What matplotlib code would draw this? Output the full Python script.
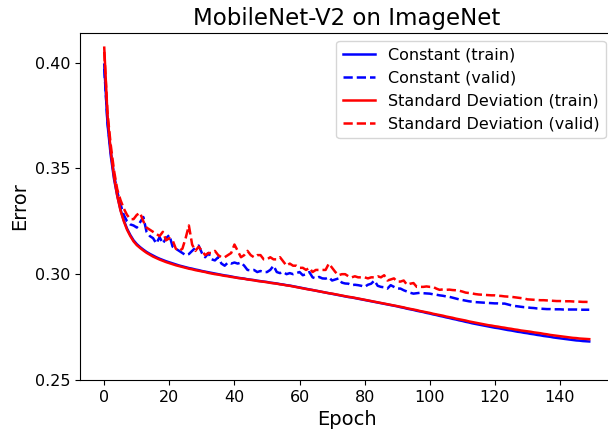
import numpy as np
import matplotlib
matplotlib.use('Agg')
import matplotlib.pyplot as plt

# error per epoch
const_train = [0.399, 0.371, 0.356, 0.345, 0.337, 0.3305, 0.3255, 0.3215, 0.3185, 0.316,
               0.3142, 0.3128, 0.3116, 0.3105, 0.3096, 0.3088, 0.3080, 0.3073, 0.3067, 0.3061,
               0.3056, 0.3051, 0.3046, 0.3041, 0.3037, 0.3033, 0.3029, 0.3026, 0.3022, 0.3019,
               0.3015, 0.3012, 0.3009, 0.3006, 0.3003, 0.3000, 0.2997, 0.2994, 0.2992, 0.2989,
               0.2986, 0.2983, 0.2981, 0.2979, 0.2976, 0.2974, 0.2972, 0.2969, 0.2967, 0.2965,
               0.2963, 0.2960, 0.2958, 0.2956, 0.2953, 0.2951, 0.2948, 0.2946, 0.2943, 0.2940,
               0.2937, 0.2934, 0.2931, 0.2928, 0.2925, 0.2922, 0.2919, 0.2916, 0.2913, 0.2910,
               0.2907, 0.2904, 0.2901, 0.2898, 0.2895, 0.2892, 0.2890, 0.2887, 0.2884, 0.2881,
               0.2878, 0.2875, 0.2872, 0.2869, 0.2866, 0.2863, 0.2860, 0.2857, 0.2854, 0.2851,
               0.2848, 0.2844, 0.2841, 0.2837, 0.2834, 0.2831, 0.2827, 0.2824, 0.2821, 0.2817,
               0.2814, 0.2810, 0.2807, 0.2803, 0.2800, 0.2796, 0.2793, 0.2789, 0.2786, 0.2782,
               0.2779, 0.2775, 0.2772, 0.2768, 0.2765, 0.2762, 0.2759, 0.2756, 0.2753, 0.2750,
               0.2747, 0.2745, 0.2742, 0.2739, 0.2736, 0.2734, 0.2731, 0.2728, 0.2726, 0.2723,
               0.2721, 0.2718, 0.2716, 0.2713, 0.2711, 0.2708, 0.2706, 0.2704, 0.2701, 0.2699,
               0.2697, 0.2695, 0.2693, 0.2691, 0.2689, 0.2687, 0.2686, 0.2684, 0.2683, 0.2682]

const_valid = [0.397, 0.372, 0.358, 0.347, 0.339, 0.333, 0.328, 0.325, 0.3235, 0.323,
               0.322, 0.3245, 0.327, 0.320, 0.318, 0.317, 0.3145, 0.3175, 0.3145, 0.317,
               0.3185, 0.313, 0.312, 0.311, 0.310, 0.309, 0.3095, 0.311, 0.3125, 0.3135,
               0.310, 0.308, 0.310, 0.307, 0.3065, 0.308, 0.305, 0.304, 0.3055, 0.305,
               0.3055, 0.305, 0.3055, 0.304, 0.302, 0.3018, 0.302, 0.301, 0.3015, 0.301,
               0.301, 0.302, 0.304, 0.301, 0.3005, 0.301, 0.300, 0.3005, 0.300, 0.3005,
               0.301, 0.2995, 0.300, 0.301, 0.2985, 0.298, 0.2987, 0.298, 0.2979, 0.2985,
               0.297, 0.2975, 0.298, 0.296, 0.2956, 0.2955, 0.2948, 0.295, 0.2948, 0.2945,
               0.294, 0.295, 0.2955, 0.297, 0.2945, 0.294, 0.2938, 0.2932, 0.2948, 0.294,
               0.2932, 0.2932, 0.2924, 0.2918, 0.2912, 0.2908, 0.291, 0.2912, 0.291, 0.2909,
               0.2908, 0.2905, 0.2903, 0.2900, 0.2898, 0.2895, 0.2893, 0.2889, 0.2885, 0.2881,
               0.2878, 0.2875, 0.2872, 0.2870, 0.2868, 0.2867, 0.2866, 0.2865, 0.2864, 0.2863,
               0.2862, 0.2862, 0.2861, 0.2861, 0.2857, 0.2853, 0.2850, 0.2848, 0.2846, 0.2844,
               0.2843, 0.2841, 0.2840, 0.2838, 0.2837, 0.2836, 0.2835, 0.2835, 0.2834, 0.2834,
               0.2834, 0.2833, 0.2833, 0.2833, 0.2833, 0.2833, 0.2832, 0.2832, 0.2832, 0.2832]

std_train = [0.407, 0.375, 0.358, 0.346, 0.337, 0.330, 0.325, 0.321, 0.318, 0.3155,
             0.3137, 0.3124, 0.3112, 0.3101, 0.3092, 0.3083, 0.3076, 0.3069, 0.3063, 0.3057,
             0.3052, 0.3047, 0.3042, 0.3038, 0.3034, 0.3030, 0.3026, 0.3023, 0.3019, 0.3016,
             0.3013, 0.3010, 0.3006, 0.3003, 0.3000, 0.2998, 0.2995, 0.2992, 0.2990, 0.2987,
             0.2985, 0.2982, 0.2980, 0.2978, 0.2975, 0.2973, 0.2971, 0.2968, 0.2966, 0.2964,
             0.2962, 0.2959, 0.2957, 0.2955, 0.2952, 0.2950, 0.2947, 0.2945, 0.2942, 0.2939,
             0.2936, 0.2933, 0.2930, 0.2927, 0.2925, 0.2922, 0.2919, 0.2916, 0.2913, 0.2910,
             0.2908, 0.2905, 0.2902, 0.2899, 0.2896, 0.2893, 0.2891, 0.2888, 0.2885, 0.2882,
             0.2879, 0.2876, 0.2873, 0.2870, 0.2867, 0.2864, 0.2861, 0.2858, 0.2855, 0.2852,
             0.2849, 0.2846, 0.2843, 0.2839, 0.2836, 0.2833, 0.2830, 0.2826, 0.2823, 0.2820,
             0.2817, 0.2813, 0.2810, 0.2807, 0.2804, 0.2800, 0.2797, 0.2794, 0.2790, 0.2787,
             0.2784, 0.2781, 0.2777, 0.2774, 0.2771, 0.2768, 0.2765, 0.2762, 0.2759, 0.2757,
             0.2754, 0.2752, 0.2749, 0.2747, 0.2744, 0.2742, 0.2739, 0.2737, 0.2734, 0.2732,
             0.2730, 0.2728, 0.2725, 0.2723, 0.2721, 0.2718, 0.2716, 0.2713, 0.2711, 0.2709,
             0.2707, 0.2705, 0.2703, 0.2701, 0.2699, 0.2698, 0.2696, 0.2695, 0.2694, 0.2693]

std_valid = [0.405, 0.376, 0.361, 0.349, 0.340, 0.335, 0.331, 0.328, 0.326, 0.326,
             0.328, 0.329, 0.325, 0.322, 0.321, 0.320, 0.319, 0.318, 0.320, 0.316,
             0.317, 0.316, 0.312, 0.311, 0.312, 0.317, 0.323, 0.314, 0.311, 0.313,
             0.311, 0.309, 0.310, 0.310, 0.311, 0.309, 0.308, 0.308, 0.309, 0.310,
             0.314, 0.311, 0.308, 0.309, 0.311, 0.309, 0.308, 0.309, 0.309, 0.307,
             0.307, 0.308, 0.307, 0.307, 0.308, 0.306, 0.304, 0.305, 0.304, 0.304,
             0.303, 0.303, 0.302, 0.303, 0.301, 0.302, 0.302, 0.302, 0.302, 0.305,
             0.303, 0.301, 0.2995, 0.300, 0.300, 0.299, 0.2985, 0.299, 0.2985, 0.2985,
             0.2985, 0.298, 0.2985, 0.2985, 0.299, 0.2985, 0.2995, 0.297, 0.2975, 0.298,
             0.2965, 0.2965, 0.297, 0.295, 0.2955, 0.2958, 0.294, 0.294, 0.294, 0.2942,
             0.294, 0.294, 0.2932, 0.2926, 0.2928, 0.2926, 0.2927, 0.2925, 0.2924, 0.2922,
             0.2918, 0.2913, 0.2911, 0.2909, 0.2906, 0.2904, 0.2903, 0.2902, 0.2901, 0.2900,
             0.2900, 0.2898, 0.2897, 0.2895, 0.2894, 0.2893, 0.2891, 0.2889, 0.2887, 0.2885,
             0.2881, 0.2880, 0.2879, 0.2878, 0.2877, 0.2877, 0.2876, 0.2875, 0.2874, 0.2873,
             0.2873, 0.2872, 0.2872, 0.2872, 0.2871, 0.2870, 0.2870, 0.2869, 0.2869, 0.2868]

epochs = np.arange(len(const_train))

fig = plt.figure(figsize=(6.08, 4.32), dpi=100)
# right spine falls just outside the saved picture, as in the original
ax = fig.add_axes([80/608., 52/432., 533.5/608., 347/432.])

ax.plot(epochs, const_train, 'b-', lw=1.8, label='Constant (train)')
ax.plot(epochs, const_valid, 'b--', lw=1.8, label='Constant (valid)')
ax.plot(epochs, std_train, 'r-', lw=1.8, label='Standard Deviation (train)')
ax.plot(epochs, std_valid, 'r--', lw=1.8, label='Standard Deviation (valid)')

ax.set_ylim(bottom=0.25)
ax.set_yticks([0.25, 0.30, 0.35, 0.40])
ax.set_xticks(np.arange(0, 150, 20))
ax.tick_params(labelsize=11.5)
ax.set_xlabel('Epoch', fontsize=14)
ax.set_ylabel('Error', fontsize=14)
ax.set_title('MobileNet-V2 on ImageNet', fontsize=16.5)
ax.legend(loc='upper right', fontsize=11.5)

plt.savefig('out.png', dpi=100)
